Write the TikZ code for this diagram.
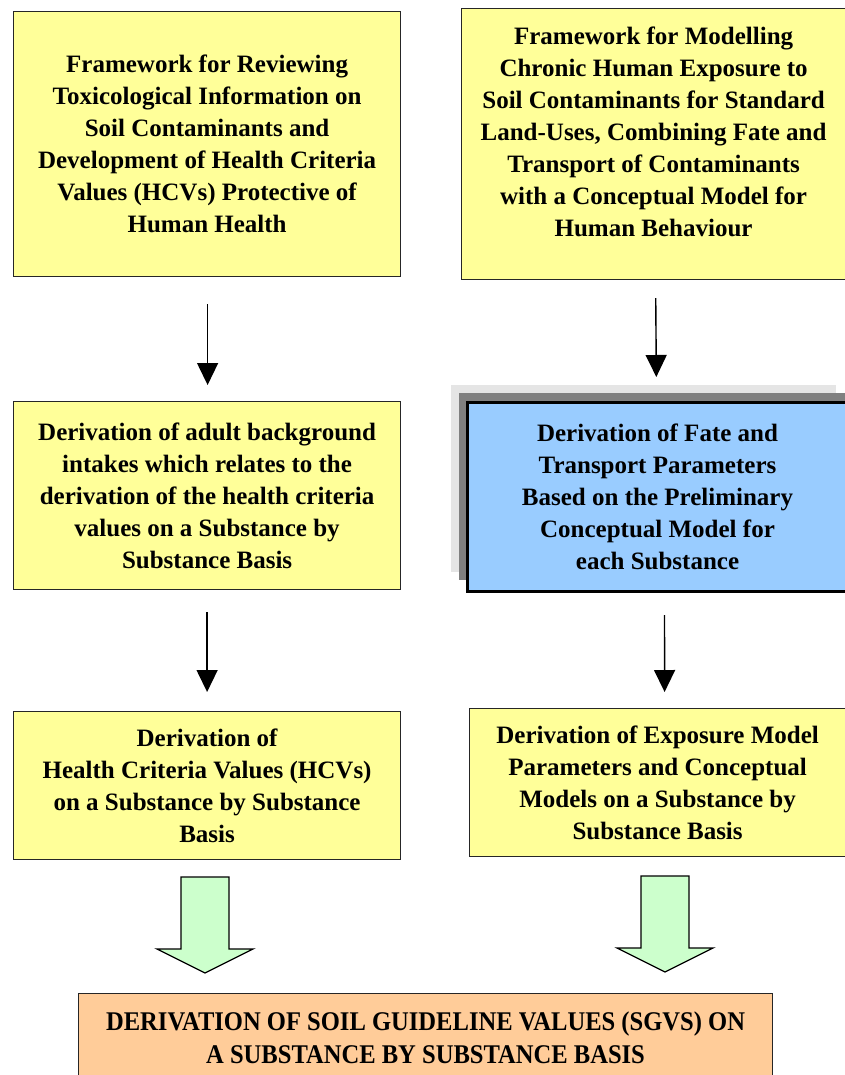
\documentclass[tikz,border=0pt]{standalone}
\usepackage{fontspec}
\setmainfont{Liberation Serif}[BoldFont={Liberation Serif Bold}]
\usepackage{tikz}
\usetikzlibrary{arrows.meta, positioning, calc}
\definecolor{box-yellow}{RGB}{255,255,153}
\definecolor{box-blue}{RGB}{153,204,255}
\definecolor{box-green}{RGB}{204,255,204}
\definecolor{box-orange}{RGB}{255,204,153}
\definecolor{shade-light}{RGB}{229,229,229}
\definecolor{shade-dark}{RGB}{128,128,128}

\begin{document}
\begin{tikzpicture}[
    x=1pt, y=-1pt,
    stage/.style={rectangle, draw=black!85, line width=1.2pt, fill=box-yellow, anchor=north west, align=center, inner sep=0pt, font=\fontsize{25}{32}\selectfont\bfseries},
    focus/.style={stage, draw=black, line width=3pt, fill=box-blue},
    result/.style={stage, fill=box-orange, font=\fontsize{27}{33}\selectfont\bfseries},
    flow/.style={-{Triangle[width=21pt, length=22pt]}, line width=1.4pt},
    bigflow/.style={draw=black, line width=1.3pt, fill=box-green, line join=miter},
]
\useasboundingbox (0,0) rectangle (845,1075);

% Top row
\node[stage, minimum width=387pt, minimum height=265pt] (review) at (13,11)
    {Framework for Reviewing\\Toxicological Information on\\Soil Contaminants and\\Development of Health Criteria\\Values (HCVs) Protective of\\Human Health};
\node[stage, minimum width=384pt, minimum height=271pt, text depth=24pt] (exposure) at (461,8)
    {Framework for Modelling\\Chronic Human Exposure to\\Soil Contaminants for Standard\\Land-Uses, Combining Fate and\\Transport of Contaminants\\with a Conceptual Model for\\Human Behaviour};

% Middle row
\node[stage, minimum width=387pt, minimum height=188pt] (intake) at (13,401)
    {Derivation of adult background\\intakes which relates to the\\derivation of the health criteria\\values on a Substance by\\Substance Basis};
\fill[shade-light] (451,385) rectangle (836,572);
\fill[shade-dark] (459,393) rectangle (848,580);
\node[focus, minimum width=380pt, minimum height=189pt] (fate) at (466,401)
    {Derivation of Fate and\\Transport Parameters\\Based on the Preliminary\\Conceptual Model for\\each Substance};

% Bottom row
\node[stage, minimum width=387pt, minimum height=148pt] (hcv) at (13,711)
    {Derivation of\\Health Criteria Values (HCVs)\\on a Substance by Substance\\Basis};
\node[stage, minimum width=376pt, minimum height=148pt] (model) at (469,708)
    {Derivation of Exposure Model\\Parameters and Conceptual\\Models on a Substance by\\Substance Basis};

% Result
\node[result, minimum width=694pt, minimum height=88pt] (sgv) at (78,993)
    {\scalebox{0.91}[1]{DERIVATION OF SOIL GUIDELINE VALUES (SGVS) ON}\\\scalebox{0.91}[1]{A SUBSTANCE BY SUBSTANCE BASIS}};

% Arrows
\draw[flow, shorten <=27pt, shorten >=16pt] ([xshift=0.5pt]review.south) -- ([xshift=0.5pt]intake.north);
\draw[flow, shorten <=18pt, shorten >=24pt] ([xshift=2pt]exposure.south) -- ([xshift=-1pt]fate.north);
\draw[flow, shorten <=22pt, shorten >=19pt] (intake.south) -- (hcv.north);
\draw[flow, shorten <=22pt, shorten >=16pt] ([xshift=7pt]fate.south) -- ([xshift=7pt]model.north);

% Block arrows
\coordinate (left-top) at (181,877);
\coordinate (right-top) at (641,876);
\foreach \start in {left-top, right-top}
    \draw[bigflow] (\start) -- ++(48,0) -- ++(0,72) -- ++(24,0) -- ++(-48,24) -- ++(-48,-24) -- ++(24,0) -- cycle;

\end{tikzpicture}
\end{document}
